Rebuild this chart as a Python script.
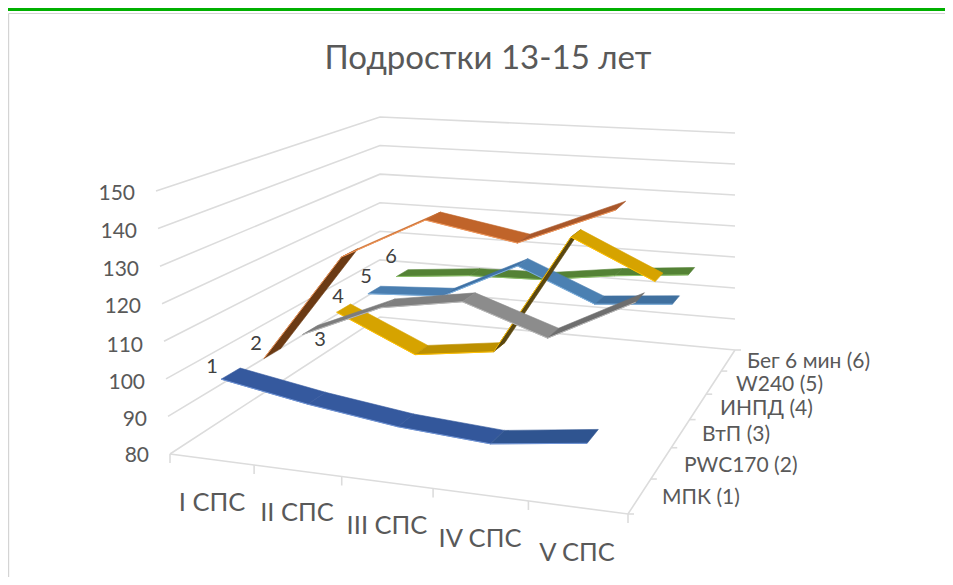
import numpy as np, pandas as pd, altair as alt

# ---------- data ----------
categories = ["I СПС", "II СПС", "III СПС", "IV СПС", "V СПС"]
series_names = ["МПК (1)", "PWC170 (2)", "ВтП (3)", "ИНПД (4)", "W240 (5)", "Бег 6 мин (6)"]
mpk   = [99.2, 95.2, 92.1, 90.6, 93.8]
pwc   = [98.0, 128.5, 140.7, 136.6, 147.7]
vtp   = [98.3, 108.4, 112.3, 104.3, 116.7]
inpd  = [98.9, 88.2, 91.4, 127.5, 116.5]
w240  = [98.9, 100.2, 111.6, 101.8, 103.9]
beg   = [99.0, 101.2, 101.8, 105.0, 107.2]
values = [mpk, pwc, vtp, inpd, w240, beg]
y_ticks = [150, 140, 130, 120, 110, 100, 90, 80]

# ---------- styles ----------
seg_colors = [
    ["#35599E", "#35599E", "#33579B", "#2F5490"],
    ["#6B3A14", "#C8692A", "#C0642A", "#A9572A"],
    ["#7C7C7C", "#7F7F7F", "#8C8C8C", "#6E6E6E"],
    ["#D6A300", "#BD9000", "#5A4710", "#D6A300"],
    ["#4A7EB0", "#3F72A6", "#4B80B2", "#40709F"],
    ["#548235", "#548235", "#548235", "#548235"],
]
edge_colors = ["#6E93D6", "#F1975A", "#B7B7B7", "#FFC000", "#7CAFDD", "#8CC168"]
TXT = "#595959"
FONT = "Lato"
W, H = 937, 569

# ---------- 3-D projection of the chart box ----------
FLOOR = [(170,454),(628,514),(735,350),(380,317)]
TOP = [(156,191),(642,236),(735,133),(380,117)]
HALF = 0.036

def homog(q):
    A=[];b=[]
    for (u,w),(x,y) in zip([(0,0),(1,0),(1,1),(0,1)],q):
        A.append([u,w,1,0,0,0,-u*x,-w*x]);b.append(x)
        A.append([0,0,0,u,w,1,-u*y,-w*y]);b.append(y)
    h=np.linalg.solve(np.array(A,float),np.array(b,float))
    return np.append(h,1).reshape(3,3)
HF,HT=homog(FLOOR),homog(TOP)
def ap(H_,u,w):
    p=H_@np.array([u,w,1.0]);return p[:2]/p[2]
def pr(u,w,v):
    f,t=ap(HF,u,w),ap(HT,u,w);k=(v-80)/70
    return f+k*(t-f)
def pr_rib(u,w,v):
    # the plotted ribbons sit slightly to the right of a pure two-plane mapping mid-box
    p=pr(u,w,v)
    return p+np.array([8*np.sin(np.pi*u)*(0.4+0.8*w),0.0])

X=alt.X('x:Q',scale=alt.Scale(domain=[8,8+W],range=[0,W]),axis=None)
Y=alt.Y('y:Q',scale=alt.Scale(domain=[8,8+H],range=[0,H]),axis=None)

# grid
grid=[]
gid=0
def add_path(pts):
    global gid
    for i,p in enumerate(pts):
        grid.append(dict(x=float(p[0]),y=float(p[1]),g=gid,o=i))
    gid+=1
for v in y_ticks:
    add_path([pr(0,0,v),pr(0,1,v),pr(1,1,v)])
add_path([pr(0,0,80),pr(1,0,80),pr(1,1,80)])
for c in range(6):
    p=pr(c/5,0,80); add_path([p,p+np.array([0,9])])
for s in range(0,7):
    p=pr(1,s/6,80); add_path([p,p+np.array([6,0])])
grid_ch=alt.Chart(pd.DataFrame(grid)).mark_line(color="#DCDCDC",strokeWidth=1.6).encode(
    x=X,y=Y,detail='g:N',order='o:Q')

# ribbons, back to front
layers=[]
for s in range(5,-1,-1):
    w=(s+.5)/6
    for c in range(4):
        u0,u1=(c+.5)/5,(c+1.5)/5
        v0,v1=values[s][c],values[s][c+1]
        quad=[pr_rib(u0,w-HALF,v0),pr_rib(u0,w+HALF,v0),pr_rib(u1,w+HALF,v1),pr_rib(u1,w-HALF,v1)]
        d=pd.DataFrame([dict(x=float(q[0]),y=float(q[1]),o=i) for i,q in enumerate(quad+[quad[0]])])
        layers.append(alt.Chart(d).mark_line(fill=seg_colors[s][c],stroke=seg_colors[s][c],strokeWidth=0.6,
                      strokeJoin='round').encode(x=X,y=Y,order='o:Q'))
        e=pd.DataFrame([dict(x=float(q[0]),y=float(q[1]),o=i) for i,q in enumerate([quad[0],quad[3]])])
        layers.append(alt.Chart(e).mark_line(stroke=edge_colors[s],strokeWidth=1).encode(x=X,y=Y,order='o:Q'))

# text
def text_layer(xs,ys,ts,size,align='center',color=TXT):
    d=pd.DataFrame(dict(x=xs,y=ys,t=ts))
    return alt.Chart(d).mark_text(font=FONT,fontSize=size,align=align,baseline='middle',color=color).encode(x=X,y=Y,text='t:N')

ytx=[float(pr(0,0,v)[0])-21 for v in y_ticks]
yty=[194,232,270,307,346,383,420,456]
t_y=text_layer(ytx,yty,[str(v) for v in y_ticks],21,'right')
t_c=text_layer([212,297,387,480,577],[503,513,526,539,553],categories,25.5)
t_s=text_layer([662,684,702,720,736,747],[498,466,435,409,385,362],series_names,21,'left')
t_n=text_layer([212,256,320,338,366,391],[367,344,340,297,277,257],["1","2","3","4","5","6"],20,color="#404040")
t_t=text_layer([488],[59],["Подростки 13-15 лет"],33)

# frame
top_band=alt.Chart(pd.DataFrame(dict(x=[8,8+W],y=[9.5,9.5]))).mark_line(color="#00B000",strokeWidth=3).encode(x=X,y=Y)
top_line=alt.Chart(pd.DataFrame(dict(x=[8.5,8+W],y=[13.5,13.5]))).mark_line(color="#D4D4D4",strokeWidth=1.2).encode(x=X,y=Y)
left_line=alt.Chart(pd.DataFrame(dict(x=[8.6,8.6],y=[13.5,8+H]))).mark_line(color="#D4D4D4",strokeWidth=1.2).encode(x=X,y=Y)

chart=alt.layer(top_band,top_line,left_line,grid_ch,*layers,t_y,t_c,t_s,t_n,t_t).properties(
    width=W,height=H,padding=0,autosize=alt.AutoSizeParams(type='none'),background='white'
).configure_view(stroke=None)
chart.save("out.html", embed_options={"renderer":"svg","actions":False})
